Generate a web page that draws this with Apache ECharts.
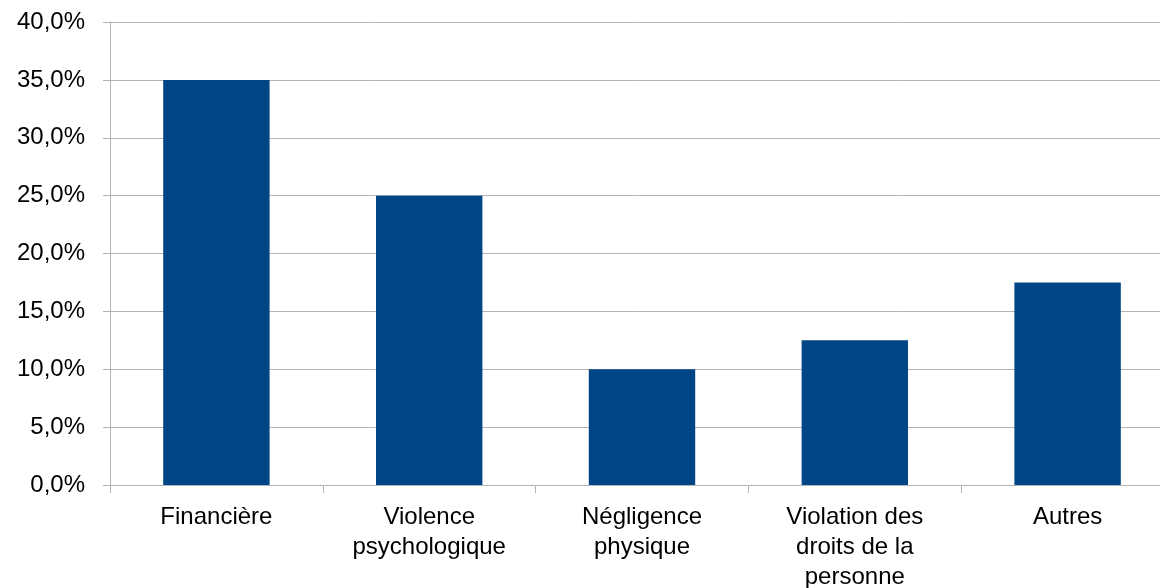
<!DOCTYPE html>
<html>
<head>
<meta charset="utf-8">
<script src="https://cdn.jsdelivr.net/npm/echarts@6/dist/echarts.min.js"></script>
<style>
  html, body { margin: 0; padding: 0; background: #fff; }
  #chart { width: 1160px; height: 588px; }
</style>
</head>
<body>
<div id="chart"></div>
<script>
// catégories et valeurs (en %)
var categories = ['Financière', 'Violence\npsychologique', 'Négligence\nphysique', 'Violation des\ndroits de la\npersonne', 'Autres']
var values = [35, 25, 10, 12.5, 17.5]
var yTicks = { min: 0, max: 40, interval: 5 }

var mychart = echarts.init(document.getElementById('chart'))
var option = {
  animation: false,
  textStyle: { fontFamily: 'Liberation Sans, Arial, sans-serif' },
  // la zone de tracé dépasse un peu à droite, comme l'original rogné
  grid: {
    left: 110,
    top: 22,
    width: 1064,
    height: 463,
    containLabel: false,
    outerBoundsMode: 'none'
  },
  xAxis: {
    type: 'category',
    data: categories,
    axisLine: { lineStyle: { color: '#b3b3b3', width: 1 } },
    axisTick: { show: true, length: 8, lineStyle: { color: '#b3b3b3' } },
    axisLabel: {
      color: '#000',
      fontSize: 24,
      lineHeight: 30,
      margin: 17,
      interval: 0
    }
  },
  yAxis: {
    type: 'value',
    min: yTicks.min,
    max: yTicks.max,
    interval: yTicks.interval,
    axisLine: { show: true, lineStyle: { color: '#b3b3b3', width: 1 } },
    axisTick: { show: true, length: 7, lineStyle: { color: '#b3b3b3' } },
    splitLine: { lineStyle: { color: '#b3b3b3', width: 1 } },
    axisLabel: {
      color: '#000',
      fontSize: 24,
      margin: 25,
      formatter: function (v) {
        return v.toFixed(1).replace('.', ',') + '%'
      }
    }
  },
  series: [
    {
      type: 'bar',
      data: values,
      barWidth: '50%',
      itemStyle: { color: '#004586' }
    }
  ]
}
mychart.setOption(option)
</script>
</body>
</html>
